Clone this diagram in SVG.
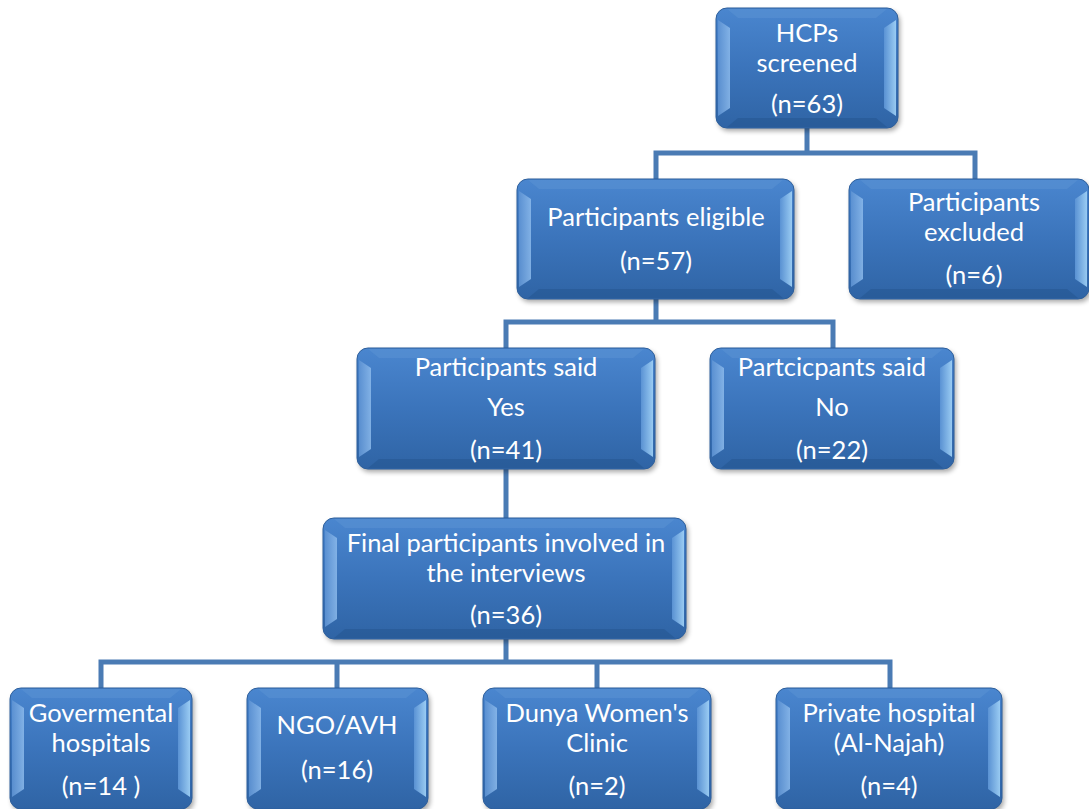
<svg xmlns="http://www.w3.org/2000/svg" width="1089" height="809" viewBox="0 0 1089 809">
  <defs>
    <linearGradient id="body" x1="0" y1="0" x2="0" y2="1">
      <stop offset="0" stop-color="#4a86cf"/>
      <stop offset="0.5" stop-color="#3b74bb"/>
      <stop offset="1" stop-color="#2f64a5"/>
    </linearGradient>
    <linearGradient id="facetL" x1="0" y1="0" x2="1" y2="0">
      <stop offset="0" stop-color="#5f94d4"/>
      <stop offset="1" stop-color="#8dbbec"/>
    </linearGradient>
    <linearGradient id="facetR" x1="0" y1="0" x2="1" y2="0">
      <stop offset="0" stop-color="#5d95d6"/>
      <stop offset="1" stop-color="#a3d4f8"/>
    </linearGradient>
    <filter id="shadow" x="-10%" y="-10%" width="120%" height="130%">
      <feGaussianBlur stdDeviation="2.5"/>
    </filter>
  </defs>
  <style>
    .conn { fill: none; stroke: #4a7bb4; stroke-width: 5; stroke-linejoin: miter; }
    .shadow { fill: #000; opacity: 0.35; filter: url(#shadow); }
    .box { fill: url(#body); stroke: #2d5f9c; stroke-width: 1; }
    .fl { fill: url(#facetL); opacity: 0.85; }
    .fr { fill: url(#facetR); opacity: 0.9; }
    .ft { fill: #5b93d3; opacity: 0.5; }
    .fb { fill: #24558f; opacity: 0.55; }
    text { font-family: Lato, "Open Sans", "Liberation Sans", sans-serif; font-size: 25.5px; fill: #ffffff; text-anchor: middle; }
  </style>

  <!-- connectors -->
  <g id="connectors">
    <path class="conn" d="M807 128 V153 M656 179 V153 H975 V179"/>
    <path class="conn" d="M656 298 V322 M506 348 V322 H833 V348"/>
    <path class="conn" d="M506 469 V518"/>
    <path class="conn" d="M506 639 V662 M101 688 V662 H890 V688 M337 662 V688 M597 662 V688"/>
  </g>

  <!-- HCPs screened -->
  <g id="hcps">
    <rect class="shadow" x="718" y="11" width="182" height="120" rx="11"/>
    <rect class="box" x="716" y="8" width="182" height="120" rx="11"/>
    <polygon class="ft" points="727,9 887,9 876,18 738,18"/>
    <polygon class="fb" points="727,127 887,127 876,118 738,118"/>
    <polygon class="fl" points="718,20 730,28 730,108 718,116"/>
    <polygon class="fr" points="896,20 884,28 884,108 896,116"/>
    <text x="807" y="42">HCPs</text>
    <text x="807" y="72">screened</text>
    <text x="807" y="113">(n=63)</text>
  </g>

  <!-- Participants eligible -->
  <g id="eligible">
    <rect class="shadow" x="519" y="182" width="277" height="120" rx="11"/>
    <rect class="box" x="517" y="179" width="277" height="120" rx="11"/>
    <polygon class="ft" points="528,180 783,180 772,189 539,189"/>
    <polygon class="fb" points="528,298 783,298 772,289 539,289"/>
    <polygon class="fl" points="519,191 531,199 531,279 519,287"/>
    <polygon class="fr" points="792,191 780,199 780,279 792,287"/>
    <text x="656" y="226">Participants eligible</text>
    <text x="656" y="270">(n=57)</text>
  </g>

  <!-- Participants excluded -->
  <g id="excluded">
    <rect class="shadow" x="851" y="182" width="240" height="120" rx="11"/>
    <rect class="box" x="849" y="179" width="240" height="120" rx="11"/>
    <polygon class="ft" points="860,180 1078,180 1067,189 871,189"/>
    <polygon class="fb" points="860,298 1078,298 1067,289 871,289"/>
    <polygon class="fl" points="851,191 863,199 863,279 851,287"/>
    <polygon class="fr" points="1087,191 1075,199 1075,279 1087,287"/>
    <text x="974" y="211">Participants</text>
    <text x="974" y="241">excluded</text>
    <text x="974" y="284">(n=6)</text>
  </g>

  <!-- Participants said Yes -->
  <g id="said-yes">
    <rect class="shadow" x="359" y="351" width="298" height="121" rx="11"/>
    <rect class="box" x="357" y="348" width="298" height="121" rx="11"/>
    <polygon class="ft" points="368,349 644,349 633,358 379,358"/>
    <polygon class="fb" points="368,468 644,468 633,459 379,459"/>
    <polygon class="fl" points="359,360 371,368 371,449 359,457"/>
    <polygon class="fr" points="653,360 641,368 641,449 653,457"/>
    <text x="506" y="376">Participants said</text>
    <text x="506" y="416">Yes</text>
    <text x="506" y="459">(n=41)</text>
  </g>

  <!-- Participants said No -->
  <g id="said-no">
    <rect class="shadow" x="712" y="351" width="244" height="121" rx="11"/>
    <rect class="box" x="710" y="348" width="244" height="121" rx="11"/>
    <polygon class="ft" points="721,349 943,349 932,358 732,358"/>
    <polygon class="fb" points="721,468 943,468 932,459 732,459"/>
    <polygon class="fl" points="712,360 724,368 724,449 712,457"/>
    <polygon class="fr" points="952,360 940,368 940,449 952,457"/>
    <text x="832" y="376">Partcicpants said</text>
    <text x="832" y="416">No</text>
    <text x="832" y="459">(n=22)</text>
  </g>

  <!-- Final participants -->
  <g id="final">
    <rect class="shadow" x="325" y="521" width="363" height="121" rx="11"/>
    <rect class="box" x="323" y="518" width="363" height="121" rx="11"/>
    <polygon class="ft" points="334,519 675,519 664,528 345,528"/>
    <polygon class="fb" points="334,638 675,638 664,629 345,629"/>
    <polygon class="fl" points="325,530 337,538 337,619 325,627"/>
    <polygon class="fr" points="684,530 672,538 672,619 684,627"/>
    <text x="506" y="552">Final participants involved in</text>
    <text x="506" y="582">the interviews</text>
    <text x="506" y="624">(n=36)</text>
  </g>

  <!-- Govermental hospitals -->
  <g id="gov">
    <rect class="shadow" x="12" y="691" width="182" height="121" rx="11"/>
    <rect class="box" x="10" y="688" width="182" height="121" rx="11"/>
    <polygon class="ft" points="21,689 181,689 170,698 32,698"/>
    <polygon class="fl" points="12,700 24,708 24,789 12,797"/>
    <polygon class="fr" points="190,700 178,708 178,789 190,797"/>
    <text x="101" y="722">Govermental</text>
    <text x="101" y="752">hospitals</text>
    <text x="101" y="795">(n=14 )</text>
  </g>

  <!-- NGO/AVH -->
  <g id="ngo">
    <rect class="shadow" x="249" y="691" width="181" height="121" rx="11"/>
    <rect class="box" x="247" y="688" width="181" height="121" rx="11"/>
    <polygon class="ft" points="258,689 417,689 406,698 269,698"/>
    <polygon class="fl" points="249,700 261,708 261,789 249,797"/>
    <polygon class="fr" points="426,700 414,708 414,789 426,797"/>
    <text x="337" y="734">NGO/AVH</text>
    <text x="337" y="779">(n=16)</text>
  </g>

  <!-- Dunya Women's Clinic -->
  <g id="dunya">
    <rect class="shadow" x="485" y="691" width="228" height="121" rx="11"/>
    <rect class="box" x="483" y="688" width="228" height="121" rx="11"/>
    <polygon class="ft" points="494,689 700,689 689,698 505,698"/>
    <polygon class="fl" points="485,700 497,708 497,789 485,797"/>
    <polygon class="fr" points="709,700 697,708 697,789 709,797"/>
    <text x="597" y="722">Dunya Women's</text>
    <text x="597" y="752">Clinic</text>
    <text x="597" y="795">(n=2)</text>
  </g>

  <!-- Private hospital -->
  <g id="private">
    <rect class="shadow" x="778" y="691" width="226" height="121" rx="11"/>
    <rect class="box" x="776" y="688" width="226" height="121" rx="11"/>
    <polygon class="ft" points="787,689 991,689 980,698 798,698"/>
    <polygon class="fl" points="778,700 790,708 790,789 778,797"/>
    <polygon class="fr" points="1000,700 988,708 988,789 1000,797"/>
    <text x="889" y="722">Private hospital</text>
    <text x="889" y="752">(Al-Najah)</text>
    <text x="889" y="795">(n=4)</text>
  </g>
</svg>
